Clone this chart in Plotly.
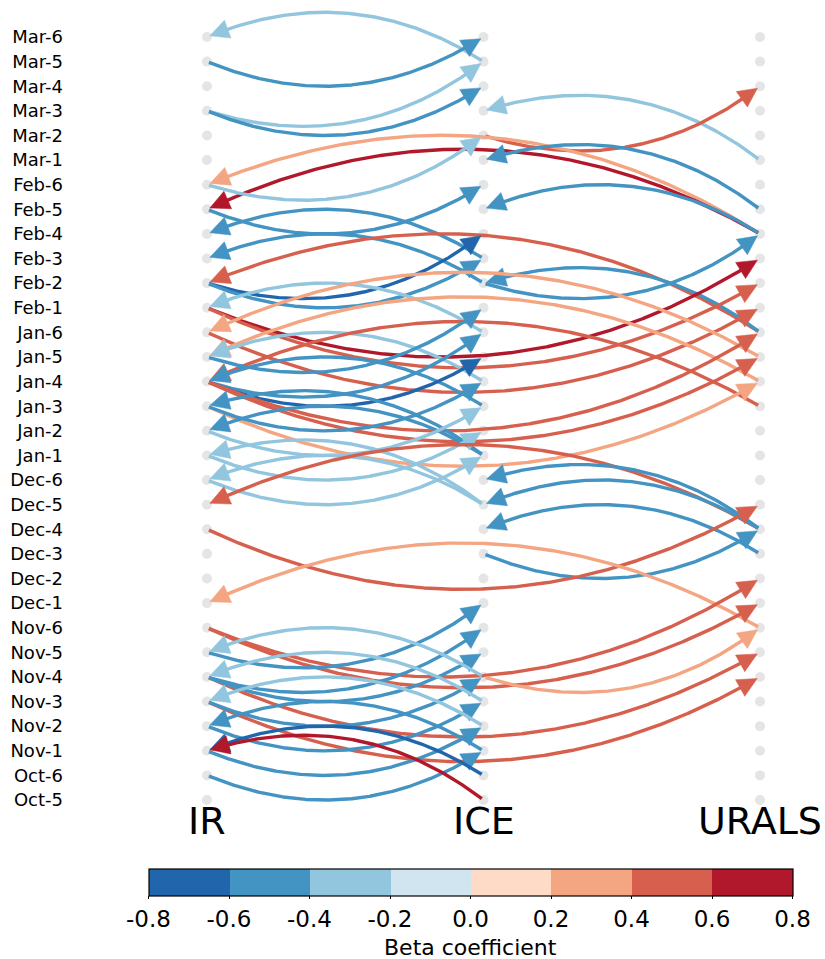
import numpy as np
import plotly.graph_objects as go

# ---------------- data ----------------
TIME_LABELS = ["Oct-5", "Oct-6",
               "Nov-1", "Nov-2", "Nov-3", "Nov-4", "Nov-5", "Nov-6",
               "Dec-1", "Dec-2", "Dec-3", "Dec-4", "Dec-5", "Dec-6",
               "Jan-1", "Jan-2", "Jan-3", "Jan-4", "Jan-5", "Jan-6",
               "Feb-1", "Feb-2", "Feb-3", "Feb-4", "Feb-5", "Feb-6",
               "Mar-1", "Mar-2", "Mar-3", "Mar-4", "Mar-5", "Mar-6"]
VARIABLES = ["IR", "ICE", "URALS"]

# links: source variable/time -> target variable/time, beta coefficient
SRC_VAR = ["ICE", "IR", "IR", "IR", "URALS", "ICE", "URALS", "URALS", "IR", "URALS",
           "URALS", "IR", "ICE", "ICE", "URALS", "IR", "IR", "ICE", "URALS", "ICE",
           "IR", "IR", "IR", "URALS", "URALS", "ICE", "URALS", "ICE", "IR", "IR",
           "IR", "IR", "IR", "IR", "ICE", "ICE", "IR", "IR", "IR", "IR",
           "ICE", "ICE", "URALS", "URALS", "URALS", "URALS", "ICE", "IR", "URALS", "IR",
           "IR", "ICE", "IR", "IR", "IR", "IR", "IR", "IR", "IR", "IR",
           "IR", "ICE", "ICE", "ICE", "ICE", "ICE", "ICE"]
SRC_TIME = ["Mar-5", "Mar-5", "Mar-3", "Mar-3", "Mar-1", "Mar-2", "Feb-4", "Feb-4", "Feb-6", "Feb-5",
            "Feb-4", "Feb-5", "Feb-3", "Feb-2", "Jan-6", "Feb-2", "Feb-2", "Feb-2", "Jan-6", "Jan-6",
            "Feb-1", "Feb-1", "Jan-6", "Jan-5", "Jan-4", "Jan-4", "Jan-3", "Jan-3", "Jan-5", "Jan-4",
            "Jan-4", "Jan-4", "Jan-4", "Jan-3", "Jan-1", "Jan-1", "Jan-3", "Jan-2", "Jan-1", "Dec-6",
            "Dec-5", "Dec-5", "Dec-4", "Dec-4", "Dec-4", "Dec-3", "Dec-3", "Dec-4", "Nov-6", "Nov-6",
            "Nov-6", "Nov-4", "Nov-4", "Nov-3", "Nov-5", "Nov-4", "Nov-4", "Nov-3", "Nov-2", "Nov-1",
            "Oct-6", "Nov-4", "Nov-3", "Nov-2", "Nov-1", "Oct-6", "Oct-5"]
TGT_VAR = ["IR", "ICE", "ICE", "ICE", "ICE", "URALS", "IR", "IR", "ICE", "ICE",
           "ICE", "ICE", "IR", "IR", "IR", "ICE", "ICE", "URALS", "ICE", "IR",
           "URALS", "URALS", "URALS", "IR", "IR", "IR", "IR", "IR", "ICE", "ICE",
           "ICE", "URALS", "URALS", "URALS", "IR", "IR", "ICE", "ICE", "ICE", "ICE",
           "IR", "IR", "IR", "ICE", "ICE", "ICE", "URALS", "URALS", "IR", "URALS",
           "URALS", "URALS", "URALS", "URALS", "ICE", "ICE", "ICE", "ICE", "ICE", "ICE",
           "ICE", "IR", "IR", "IR", "IR", "IR", "IR"]
TGT_TIME = ["Mar-6", "Mar-6", "Mar-5", "Mar-4", "Mar-3", "Mar-4", "Feb-6", "Feb-5", "Mar-2", "Mar-1",
            "Feb-5", "Feb-6", "Feb-4", "Feb-3", "Feb-2", "Feb-4", "Feb-3", "Feb-4", "Feb-2", "Feb-1",
            "Feb-3", "Feb-2", "Feb-1", "Jan-6", "Jan-5", "Jan-5", "Jan-4", "Jan-4", "Feb-1", "Jan-6",
            "Jan-5", "Jan-6", "Jan-5", "Jan-4", "Jan-3", "Jan-2", "Jan-4", "Jan-3", "Jan-2", "Jan-1",
            "Jan-1", "Dec-6", "Dec-5", "Dec-6", "Dec-5", "Dec-4", "Dec-4", "Dec-5", "Dec-1", "Dec-2",
            "Dec-1", "Nov-6", "Nov-5", "Nov-4", "Dec-1", "Nov-6", "Nov-5", "Nov-4", "Nov-3", "Nov-2",
            "Nov-1", "Nov-5", "Nov-4", "Nov-3", "Nov-2", "Nov-1", "Nov-1"]
BETA = [-0.3, -0.5, -0.3, -0.5, -0.3, 0.5, 0.3, 0.7, -0.3, -0.5,
        -0.5, -0.5, -0.5, -0.5, 0.5, -0.7, -0.5, -0.5, -0.5, -0.3,
        0.7, 0.5, 0.5, 0.3, 0.3, -0.3, 0.5, -0.5, -0.5, -0.5,
        -0.7, 0.5, 0.5, 0.3, -0.5, -0.5, -0.5, -0.3, -0.3, -0.3,
        -0.3, -0.3, 0.5, -0.5, -0.5, -0.5, -0.5, 0.5, 0.3, 0.5,
        0.5, 0.3, 0.5, 0.5, -0.5, -0.5, -0.5, -0.5, -0.5, -0.5,
        -0.5, -0.3, -0.3, -0.3, -0.5, -0.7, 0.7]

CBAR_TICKS = [-0.8, -0.6, -0.4, -0.2, 0.0, 0.2, 0.4, 0.6, 0.8]
BIN_COLORS = ["#2166ac", "#4393c3", "#92c5de", "#d1e5f0",
              "#fddbc7", "#f4a582", "#d6604d", "#b2182b"]
CBAR_TITLE = "Beta coefficient"

# ---------------- layout / scales ----------------
W, H = 825, 959
ML = 68
X_RANGE = [-0.5027, 2.2351]
Y_RANGE = [-6.460, 32.503]
PW = W - ML
SX = PW / (X_RANGE[1] - X_RANGE[0])
SY = H / (Y_RANGE[1] - Y_RANGE[0])

FONT = "DejaVu Sans"
RAD = 0.26
SHRINK_A, SHRINK_B = 2.0, 3.0
HEAD_LEN, HEAD_HW = 19.0, 9.5
LINE_W = 3.4


def to_px(x, y):
    return np.array([(x - X_RANGE[0]) * SX, (Y_RANGE[1] - y) * SY])


def to_data(p):
    p = np.atleast_2d(p)
    return p[:, 0] / SX + X_RANGE[0], Y_RANGE[1] - p[:, 1] / SY


def color_of(b):
    i = int(np.clip(np.floor((b - CBAR_TICKS[0]) / 0.2), 0, len(BIN_COLORS) - 1))
    return BIN_COLORS[i]


fig = go.Figure()

# node dots
nx, ny = [], []
for vi, v in enumerate(VARIABLES):
    for ti, t in enumerate(TIME_LABELS):
        nx.append(vi)
        ny.append(ti)
fig.add_trace(go.Scatter(x=nx, y=ny, mode="markers",
                         marker=dict(size=10, color="#e5e5e5"),
                         hoverinfo="skip", showlegend=False))

# links
for sv, st, tv, tt, b in zip(SRC_VAR, SRC_TIME, TGT_VAR, TGT_TIME, BETA):
    p0 = to_px(VARIABLES.index(sv), TIME_LABELS.index(st))
    p2 = to_px(VARIABLES.index(tv), TIME_LABELS.index(tt))
    d = p2 - p0
    c = (p0 + p2) / 2 + RAD * np.array([-d[1], d[0]])
    tt_ = np.linspace(0, 1, 600)[:, None]
    pts = (1 - tt_) ** 2 * p0 + 2 * tt_ * (1 - tt_) * c + tt_ ** 2 * p2
    dA = np.hypot(*(pts - p0).T)
    dB = np.hypot(*(pts - p2).T)
    i0 = int(np.argmax(dA >= SHRINK_A))
    i_tip = int(np.where(dB >= SHRINK_B)[0][-1])
    seg = np.hypot(*np.diff(pts[:i_tip + 1], axis=0).T)
    back = np.cumsum(seg[::-1])
    k = int(np.argmax(back >= HEAD_LEN))
    i_base = i_tip - (k + 1)
    tip = pts[i_tip]
    base = pts[i_base]
    u = (tip - base) / np.hypot(*(tip - base))
    nrm = np.array([-u[1], u[0]])
    line_end = base + u * 4.0
    line_pts = np.vstack([pts[i0:i_base + 1], line_end])
    col = color_of(b)
    lx, ly = to_data(line_pts)
    fig.add_trace(go.Scatter(x=lx, y=ly, mode="lines",
                             line=dict(color=col, width=LINE_W),
                             hoverinfo="skip", showlegend=False))
    head = np.array([tip, base + nrm * HEAD_HW, base - nrm * HEAD_HW, tip])
    hx, hy = to_data(head)
    fig.add_trace(go.Scatter(x=hx, y=hy, mode="lines", fill="toself",
                             fillcolor=col, line=dict(color=col, width=0.5),
                             hoverinfo="skip", showlegend=False))

# column labels
for vi, v in enumerate(VARIABLES):
    fig.add_annotation(x=vi, y=Y_RANGE[1] - 821 / SY, text=v, showarrow=False,
                       xanchor="center", yanchor="middle",
                       font=dict(family=FONT, size=38, color="black"))

# colour bar
cscale = []
n = len(BIN_COLORS)
for i, c in enumerate(BIN_COLORS):
    cscale.append([i / n, c])
    cscale.append([(i + 1) / n, c])
fig.add_trace(go.Scatter(x=[0, 0], y=[0, 0], mode="markers",
                         marker=dict(size=0.1, opacity=0, color=[CBAR_TICKS[0], CBAR_TICKS[-1]],
                                     coloraxis="coloraxis"),
                         hoverinfo="skip", showlegend=False))

cb_center = (470.5 - ML) / PW
fig.add_annotation(xref="paper", yref="paper", x=cb_center, y=1 - 947 / H,
                   text=CBAR_TITLE, showarrow=False, xanchor="center", yanchor="middle",
                   font=dict(family=FONT, size=22, color="black"))

fig.update_layout(
    width=W, height=H,
    margin=dict(l=ML, r=0, t=0, b=0, autoexpand=False),
    plot_bgcolor="white", paper_bgcolor="white",
    xaxis=dict(range=X_RANGE, visible=False, fixedrange=True),
    yaxis=dict(range=Y_RANGE, tickvals=list(range(len(TIME_LABELS))), ticktext=TIME_LABELS,
               showgrid=False, zeroline=False, showline=False, ticks="",
               ticklabelstandoff=4, automargin=False,
               tickfont=dict(family=FONT, size=18, color="black"), fixedrange=True),
    coloraxis=dict(colorscale=cscale, cmin=CBAR_TICKS[0], cmax=CBAR_TICKS[-1],
                   colorbar=dict(orientation="h", x=cb_center, xanchor="center",
                                 y=1 - 869 / H, yanchor="top", yref="paper",
                                 len=644, lenmode="pixels", thickness=27,
                                 thicknessmode="pixels", xpad=0, ypad=0,
                                 outlinewidth=1.2, outlinecolor="black",
                                 tickvals=CBAR_TICKS,
                                 ticktext=[f"{v:.1f}" for v in CBAR_TICKS],
                                 ticks="outside", ticklen=3, tickcolor="black",
                                 tickfont=dict(family=FONT, size=23, color="black"))),
    font=dict(family=FONT),
)

fig.write_html("out.html")
